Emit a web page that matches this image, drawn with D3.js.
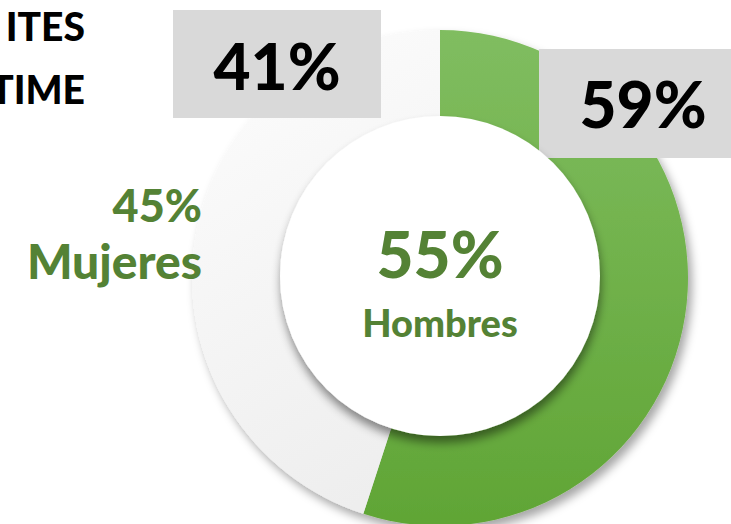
<!DOCTYPE html>
<html>
<head>
<meta charset="utf-8">
<script src="https://cdn.jsdelivr.net/npm/d3@7"></script>
<style>
  body { margin: 0; background: #fff; overflow: hidden; }
  svg { display: block; font-family: Lato, "Open Sans", sans-serif; font-weight: 900; }
</style>
</head>
<body>
<script>
// data
const categories = ['Hombres', 'Mujeres'];
const shares = [55, 45];
const boxLabels = ['59%', '41%'];
const titleLines = ['ITES', 'TIME'];

const width = 731, height = 524;
const cx = 440, cy = 278;
const outerR = 248, innerR = 160;

let svg = d3.select('body')
    .append('svg')
    .attr('width', width)
    .attr('height', height);

let defs = svg.append('defs');

// green fill, lighter at the top
let gGreen = defs.append('linearGradient')
    .attr('id', 'green').attr('x1', 0).attr('y1', 0).attr('x2', 0).attr('y2', 1);
gGreen.append('stop').attr('offset', '0%').attr('stop-color', '#80bd60');
gGreen.append('stop').attr('offset', '100%').attr('stop-color', '#60a535');

// light grey slice
let gLight = defs.append('linearGradient')
    .attr('id', 'light').attr('x1', 0.3).attr('y1', 0).attr('x2', 0.6).attr('y2', 1);
gLight.append('stop').attr('offset', '0%').attr('stop-color', '#fcfcfc');
gLight.append('stop').attr('offset', '100%').attr('stop-color', '#eeeeee');

// shadows
defs.append('filter').attr('id', 'ringShadow')
    .attr('x', '-20%').attr('y', '-20%').attr('width', '140%').attr('height', '140%')
    .append('feDropShadow')
    .attr('dx', 4).attr('dy', 6).attr('stdDeviation', 5)
    .attr('flood-color', '#000').attr('flood-opacity', 0.35);

defs.append('filter').attr('id', 'holeShadow')
    .attr('x', '-20%').attr('y', '-20%').attr('width', '140%').attr('height', '140%')
    .append('feDropShadow')
    .attr('dx', 1).attr('dy', 7).attr('stdDeviation', 5)
    .attr('flood-color', '#000').attr('flood-opacity', 0.45);

let color = d3.scaleOrdinal()
    .domain(categories)
    .range(['url(#green)', 'url(#light)']);

let pie = d3.pie().sort(null);
let arc = d3.arc().innerRadius(innerR - 10).outerRadius(outerR);

let ring = svg.append('g')
    .attr('transform', `translate(${cx},${cy})`)
    .attr('filter', 'url(#ringShadow)');

ring.selectAll('path')
    .data(pie(shares))
    .enter()
    .append('path')
    .attr('d', arc)
    .attr('fill', (d, i) => color(categories[i]));

// grey label boxes sitting over the ring
let boxes = [
    { x: 539, y: 49, w: 200, h: 109, text: boxLabels[0], tx: 643, ty: 128 },
    { x: 173, y: 10, w: 208, h: 108, text: boxLabels[1], tx: 277, ty: 90 }
];

let boxG = svg.selectAll('g.box')
    .data(boxes)
    .enter()
    .append('g')
    .attr('class', 'box');

boxG.append('rect')
    .attr('x', d => d.x).attr('y', d => d.y)
    .attr('width', d => d.w).attr('height', d => d.h)
    .attr('fill', '#d9d9d9');

boxG.append('text')
    .attr('x', d => d.tx).attr('y', d => d.ty)
    .attr('text-anchor', 'middle')
    .attr('font-size', 64)
    .attr('fill', '#000')
    .text(d => d.text);

// white centre
svg.append('circle')
    .attr('cx', cx).attr('cy', cy - 2)
    .attr('r', innerR)
    .attr('fill', '#fff')
    .attr('filter', 'url(#holeShadow)');

const labelGreen = '#548235';

svg.append('text')
    .attr('x', cx).attr('y', 278)
    .attr('text-anchor', 'middle')
    .attr('font-size', 64)
    .attr('fill', labelGreen)
    .text(shares[0] + '%');

svg.append('text')
    .attr('x', cx).attr('y', 337)
    .attr('text-anchor', 'middle')
    .attr('font-size', 38)
    .attr('fill', labelGreen)
    .text(categories[0]);

svg.append('text')
    .attr('x', 202).attr('y', 222)
    .attr('text-anchor', 'end')
    .attr('font-size', 45)
    .attr('fill', labelGreen)
    .text(shares[1] + '%');

svg.append('text')
    .attr('x', 202).attr('y', 279)
    .attr('text-anchor', 'end')
    .attr('font-size', 48)
    .attr('fill', labelGreen)
    .text(categories[1]);

// title, cut off at the left edge
svg.selectAll('text.title')
    .data(titleLines)
    .enter()
    .append('text')
    .attr('class', 'title')
    .attr('x', 85)
    .attr('y', (d, i) => 41 + i * 63)
    .attr('text-anchor', 'end')
    .attr('font-size', 39)
    .attr('fill', '#000')
    .text(d => d);
</script>
</body>
</html>
